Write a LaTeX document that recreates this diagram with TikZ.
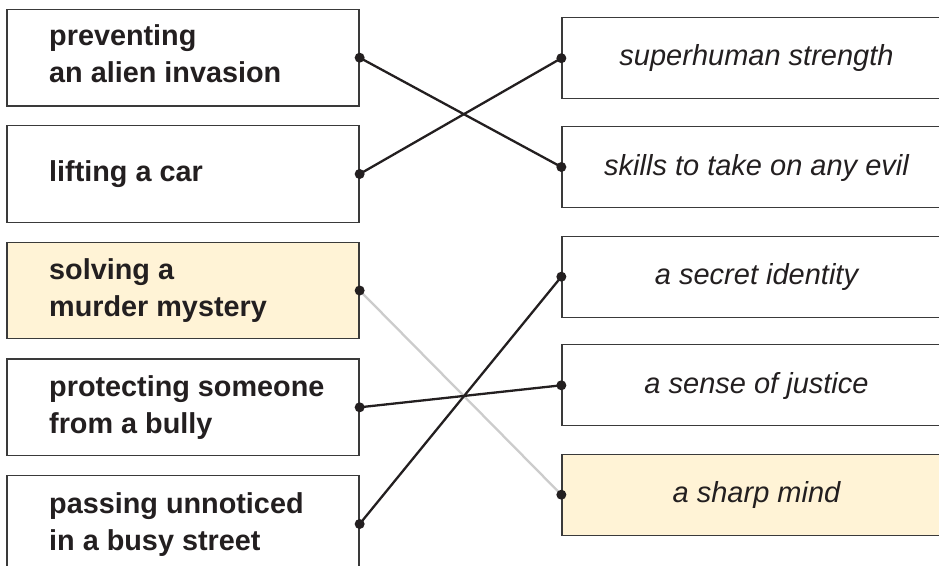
\documentclass[tikz,border=0pt]{standalone}
\usepackage{fontspec}
\setmainfont{Liberation Sans}
\definecolor{ink}{HTML}{231F20}
\definecolor{boxline}{HTML}{3A3A3A}
\definecolor{cream}{HTML}{FFF3D6}
\definecolor{greyline}{HTML}{CCCCCC}
\begin{document}
\begin{tikzpicture}[x=1pt,y=-1pt,
  lbox/.style={draw=boxline, line width=1.3pt, fill=white, inner sep=0pt, minimum width=352pt, minimum height=96.5pt},
  rbox/.style={draw=boxline, line width=1.3pt, fill=white, inner sep=0pt, minimum width=389pt, minimum height=81pt},
  hl/.style={fill=cream},
  ltext/.style={anchor=base west, inner sep=0pt, align=left, text=ink, font=\fontsize{28.8}{37}\selectfont\bfseries},
  rtext/.style={anchor=base, inner sep=0pt, text=ink, font=\fontsize{29}{35}\selectfont\itshape},
  conn/.style={draw=ink, line width=2.3pt},
  pale/.style={draw=greyline, line width=2.3pt},
  dot/.style={fill=ink}]
\useasboundingbox (0,0) rectangle (939,565);
% left boxes
\node[lbox] (L1) at (183,57.7) {};
\node[lbox] (L2) at (183,174) {};
\node[lbox,hl] (L3) at (183,290.5) {};
\node[lbox] (L4) at (183,407.3) {};
\node[lbox] (L5) at (183,524) {};
% right boxes
\node[rbox] (R1) at (756.5,58.2) {};
\node[rbox] (R2) at (756.5,167) {};
\node[rbox] (R3) at (756.5,276.7) {};
\node[rbox] (R4) at (756.5,385.3) {};
\node[rbox,hl] (R5) at (756.5,494.7) {};
% left texts (base = last line)
\node[ltext] (T1) at (49,82.5) {preventing\\an alien invasion};
\node[ltext] (T2) at (49,181.7) {lifting a car};
\node[ltext] (T3) at (49,316.5) {solving a\\murder mystery};
\node[ltext] (T4) at (49,433) {protecting someone\\from a bully};
\node[ltext] (T5) at (49,550.5) {passing unnoticed\\in a busy street};
% right texts
\node[rtext] (S1) at (756.5,65.5) {superhuman strength};
\node[rtext] (S2) at (756.5,175) {skills to take on any evil};
\node[rtext] (S3) at (756.5,284) {a secret identity};
\node[rtext] (S4) at (756.5,393) {a sense of justice};
\node[rtext] (S5) at (756.5,502) {a sharp mind};
% connectors
\draw[conn] (L1.east) -- (R2.west);
\draw[conn] (L2.east) -- (R1.west);
\draw[pale] (L3.east) -- (R5.west);
\draw[conn] (L4.east) -- (R4.west);
\draw[conn] (L5.east) -- (R3.west);
% dots
\foreach \n in {L1,L2,L3,L4,L5} \fill[dot] (\n.east) circle[radius=5pt];
\foreach \n in {R1,R2,R3,R4,R5} \fill[dot] (\n.west) circle[radius=5pt];
\end{tikzpicture}
\end{document}
